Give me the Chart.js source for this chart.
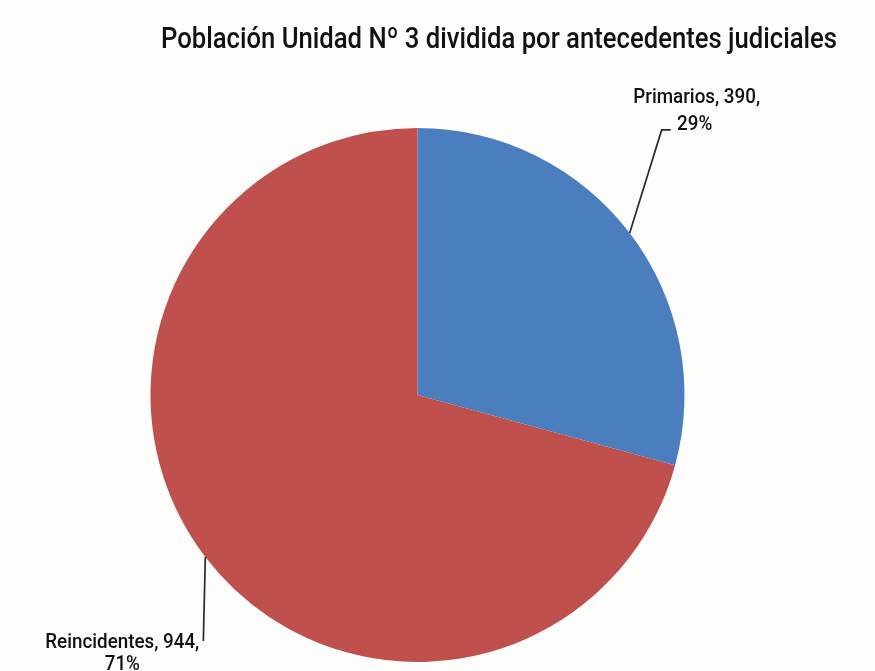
<!DOCTYPE html>
<html><head><meta charset="utf-8">
<script src="https://cdn.jsdelivr.net/npm/chart.js@4.4.0/dist/chart.umd.min.js"></script>
<style>html,body{margin:0;padding:0;background:#fdfdfc;}#wrap{width:875px;height:671px;position:relative;}</style>
</head><body><div id="wrap"><canvas id="c" width="875" height="671"></canvas></div>
<script>
const title = "Población Unidad Nº 3 dividida por antecedentes judiciales";
const categories = ["Primarios", "Reincidentes"];
const values = [390, 944];
const percents = ["29%", "71%"];
const colors = ["#4a7ebf", "#bf504e"];

const FONT = 'Roboto, "Liberation Sans", sans-serif';

function condText(ctx, text, x, y, font, sx, align) {
  ctx.save();
  ctx.font = font;
  ctx.textBaseline = 'alphabetic';
  ctx.textAlign = 'left';
  const w = ctx.measureText(text).width * sx;
  let left = x;
  if (align === 'center') left = x - w / 2;
  else if (align === 'right') left = x - w;
  ctx.translate(left, y);
  ctx.scale(sx, 1);
  ctx.fillText(text, 0, 0);
  ctx.restore();
}

const labelPlugin = {
  id: 'labels',
  afterDraw(chart) {
    const ctx = chart.ctx;
    ctx.save();
    ctx.fillStyle = '#111111';
    condText(ctx, title, 499, 48, '500 29.5px ' + FONT, 0.87, 'center');
    const meta = chart.getDatasetMeta(0);
    ctx.strokeStyle = '#2a2a2a';
    ctx.lineWidth = 1.7;
    const lf = '500 20px ' + FONT;
    const sx = 0.94;
    meta.data.forEach((arc, i) => {
      const mid = (arc.startAngle + arc.endAngle) / 2;
      const ax = arc.x + Math.cos(mid) * arc.outerRadius;
      const ay = arc.y + Math.sin(mid) * arc.outerRadius;
      const l1 = categories[i] + ", " + values[i] + ",";
      const l2 = percents[i];
      ctx.beginPath();
      if (i === 0) {
        const ex = ax + 32, ey = ay - 103;
        ctx.moveTo(ax, ay); ctx.lineTo(ex, ey); ctx.lineTo(ex + 9, ey);
        ctx.stroke();
        condText(ctx, l1, ex + 35, ey - 27, lf, sx, 'center');
        condText(ctx, l2, ex + 33, ey, lf, sx, 'center');
      } else {
        const ex = ax - 2, ey = ay + 84;
        ctx.moveTo(ax, ay); ctx.lineTo(ex, ey);
        ctx.stroke();
        condText(ctx, l1, ex - 4, ey + 7, lf, sx, 'right');
        condText(ctx, l2, ex - 81, ey + 29, lf, sx, 'center');
      }
    });
    ctx.restore();
  }
};

new Chart(document.getElementById('c'), {
  type: 'pie',
  data: { labels: categories, datasets: [{ data: values, backgroundColor: colors, borderWidth: 0 }] },
  options: {
    responsive: false, animation: false,
    layout: { padding: { left: 150, right: 190, top: 128, bottom: 9 } },
    plugins: { legend: { display: false }, title: { display: false }, tooltip: { enabled: false } }
  },
  plugins: [labelPlugin]
});
</script></body></html>
